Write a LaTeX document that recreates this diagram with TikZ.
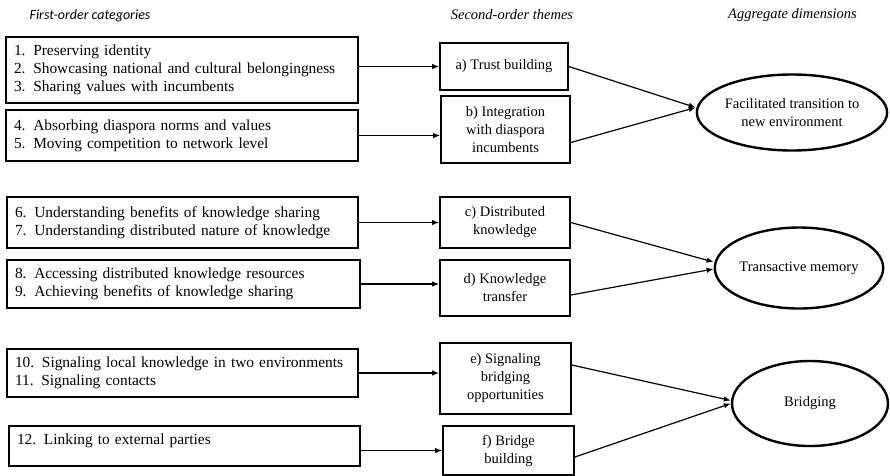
\documentclass[tikz,border=0pt]{standalone}
\usepackage{fontspec}
\setmainfont{Liberation Serif}
\newfontfamily\hdrsans{Carlito}
\usetikzlibrary{arrows.meta,shapes.geometric}
\begin{document}
\begin{tikzpicture}[x=1pt,y=-1pt,
  font=\rmfamily\fontsize{14.5}{18}\selectfont,
  catbox/.style={draw,line width=1.7pt,rectangle,inner xsep=8pt,inner ysep=0pt,align=left,
    font=\rmfamily\fontsize{15.4}{18}\selectfont},
  themebox/.style={draw,line width=1.7pt,rectangle,inner sep=0pt,align=center},
  dimell/.style={draw,line width=2.4pt,ellipse,inner sep=0pt,align=center},
  hdr/.style={font=\rmfamily\fontsize{14.5}{16}\selectfont\itshape},
  arr/.style={line width=1.2pt,-{Latex[length=7pt,width=5.5pt]}}]
\useasboundingbox (0,0) rectangle (890,475);
% headers
\node[hdr,font=\hdrsans\fontsize{14}{16}\selectfont\itshape] (h1) at (90,16) {First-order categories};
\node[hdr] (h2) at (512,15) {Second-order themes};
\node[hdr] (h3) at (792.5,15) {Aggregate dimensions};
% first-order boxes
\node[catbox,minimum width=352pt,minimum height=66pt,text width=336pt] (c1) at (182,70)
  {1. Preserving identity\\2. Showcasing national and cultural belongingness\\3. Sharing values with incumbents};
\node[catbox,minimum width=352pt,minimum height=51pt,text width=336pt] (c2) at (182,135.5)
  {4. Absorbing diaspora norms and values\\5. Moving competition to network level};
\node[catbox,minimum width=351pt,minimum height=51pt,text width=335pt] (c3) at (182.5,222.5)
  {6. Understanding benefits of knowledge sharing\\7. Understanding distributed nature of knowledge};
\node[catbox,minimum width=353pt,minimum height=48pt,text width=337pt] (c4) at (183.5,284)
  {8. Accessing distributed knowledge resources\\9. Achieving benefits of knowledge sharing};
\node[catbox,minimum width=351pt,minimum height=48pt,text width=335pt] (c5) at (182.5,373)
  {10. Signaling local knowledge in two environments\\11. Signaling contacts};
\node[catbox,minimum width=351pt,minimum height=40pt,text width=335pt,text depth=14pt] (c6) at (184.5,446)
  {12. Linking to external parties};
% second-order boxes
\node[themebox,minimum width=128pt,minimum height=47pt] (ta) at (504,66.5) {a) Trust building};
\node[themebox,minimum width=129pt,minimum height=67pt] (tb) at (505.5,129.5) {b) Integration\\with diaspora\\incumbents};
\node[themebox,minimum width=130pt,minimum height=51pt] (tc) at (505,222.5) {c) Distributed\\knowledge};
\node[themebox,minimum width=130pt,minimum height=56pt] (td) at (505,288) {d) Knowledge\\transfer};
\node[themebox,minimum width=131pt,minimum height=71pt] (te) at (505.5,378.5) {e) Signaling\\bridging\\opportunities};
\node[themebox,minimum width=131pt,minimum height=49pt] (tf) at (508.5,450.5) {f) Bridge\\building};
% aggregate dimensions
\node[dimell,minimum width=148pt,minimum height=76pt] (d1) at (792,112.5) {Facilitated transition to\\new environment};
\node[dimell,minimum width=154pt,minimum height=81pt] (d2) at (799,268) {Transactive memory};
\node[dimell,minimum width=156pt,minimum height=85pt] (d3) at (810,403.5) {Bridging};
% arrows first -> second
\draw[arr] (ta.west -| c1.east) -- (ta.west);
\draw[arr] (c2.east) -- (c2.east -| tb.west);
\draw[arr] (c3.east) -- (tc.west);
\draw[arr] (c4.east) -- (c4.east -| td.west);
\draw[arr] (c5.east) -- (c5.east -| te.west);
\draw[arr] (tf.west -| c6.east) -- (tf.west);
% arrows second -> aggregate
\coordinate (p1) at ([yshift=5pt]d1.west);
\draw[arr] (ta.east) -- (p1);
\draw[arr] ([yshift=-13pt]tb.east) -- (p1);
\draw[arr] (tc.east) -- ([yshift=6pt]d2.west);
\draw[arr] ([yshift=-7pt]td.east) -- ([yshift=-1pt]d2.west);
\draw[arr] ([yshift=13.5pt]te.east) -- ([yshift=3pt]d3.west);
\draw[arr] ([yshift=-6.5pt]tf.east) -- ([yshift=0pt]d3.west);
\end{tikzpicture}
\end{document}
